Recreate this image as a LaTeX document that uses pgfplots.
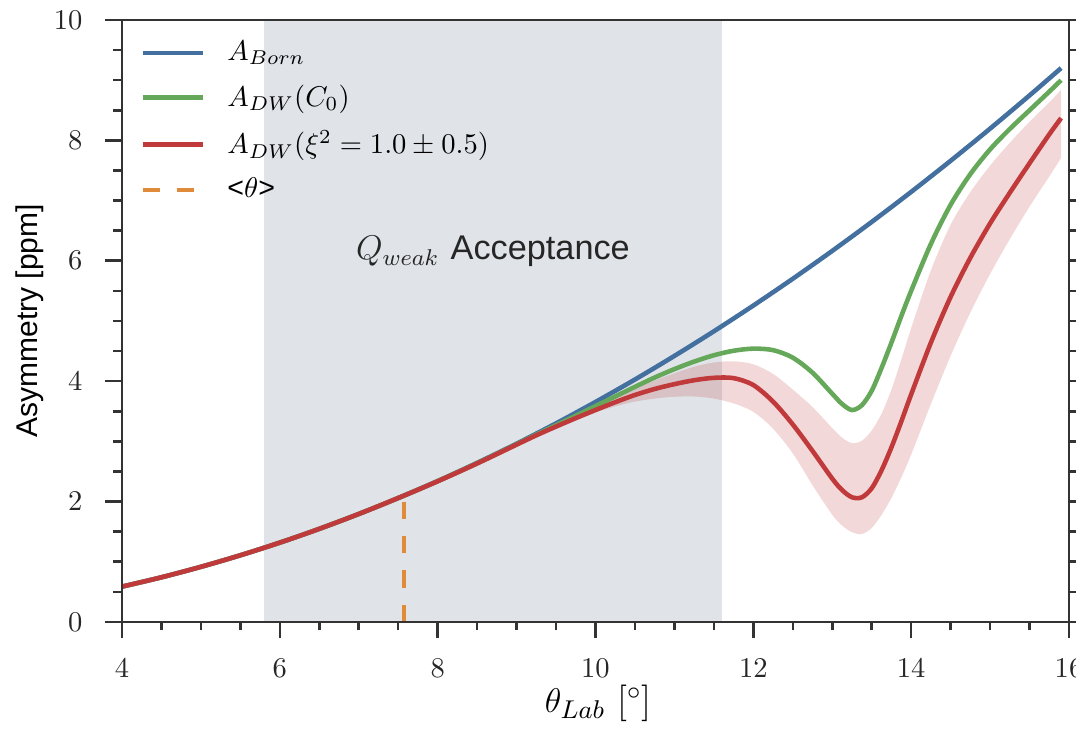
\documentclass[border=0pt]{standalone}
\usepackage{fontspec}
\setsansfont{Liberation Sans}
\usepackage{pgfplots}
\pgfplotsset{compat=1.18}
\usepgfplotslibrary{fillbetween}

\definecolor{cblue}{HTML}{4470A0}
\definecolor{cgreen}{HTML}{66A85A}
\definecolor{cred}{HTML}{C03A3C}
\definecolor{corange}{HTML}{E08B3A}
\definecolor{cshade}{HTML}{E0E4E8}
\definecolor{axc}{HTML}{333333}

\begin{document}
\begin{tikzpicture}
\begin{axis}[
    set layers,
    scale only axis, width=331.5pt, height=210.7pt,
    xmin=4, xmax=16, ymin=0, ymax=10,
    xtick={4,6,...,16}, ytick={0,2,...,10},
    minor x tick num=3, minor y tick num=3,
    tick align=outside, xtick pos=bottom, ytick pos=both,
    major tick length=5.8pt, minor tick length=3pt,
    axis line style={line width=0.9pt, color=axc},
    every tick/.style={line width=0.9pt, color=axc},
    axis on top,
    tick label style={font=\normalsize, color=black!85},
    xticklabel style={yshift=-3.8pt},
    yticklabel style={xshift=-4.5pt},
    xlabel={$\theta_{Lab}$ [$^\circ$]},
    ylabel={\sffamily Asymmetry [ppm]},
    every axis x label/.style={at={(axis description cs:0.503,-0.135)}, anchor=center, font=\fontsize{12.8}{14}\selectfont},
    every axis y label/.style={at={(axis description cs:-0.097,0.5)}, rotate=90, anchor=center, font=\fontsize{10.5}{12}\selectfont},
    legend style={at={(axis description cs:0.0097,0.985)}, anchor=north west, draw=none, fill=none,
        font=\normalsize, row sep=3pt, /tikz/every even column/.append style={column sep=6pt}},
    legend cell align=left,
    legend image code/.code={\draw[#1] (0pt,0pt) -- (21.3pt,0pt); \path (26.9pt,0pt);},
]

% acceptance window
\addplot[draw=none, fill=cshade, forget plot, on layer=axis background] coordinates {(5.8,0) (5.8,10) (11.6,10) (11.6,0)} \closedcycle;

% xi^2 band
\addplot[name path=up, draw=none, smooth, forget plot] coordinates {
(9.0,2.950) (9.25,3.110) (9.5,3.260) (9.75,3.410) (10.0,3.560) (10.25,3.720)
(10.5,3.870) (10.75,4.010) (11.0,4.130) (11.25,4.240) (11.5,4.310) (11.75,4.330)
(12.0,4.280) (12.25,4.120) (12.5,3.860) (12.75,3.570) (13.0,3.220) (13.125,3.060)
(13.25,2.970) (13.375,3.010) (13.5,3.180) (13.625,3.460) (13.75,3.860) (13.875,4.360)
(14.0,4.880) (14.25,5.840) (14.5,6.600) (14.75,7.140) (15.0,7.580) (15.25,7.960)
(15.5,8.310) (15.75,8.630) (15.9,8.840)
};
\addplot[name path=lo, draw=none, smooth, forget plot] coordinates {
(9.0,2.940) (9.25,3.090) (9.5,3.230) (9.75,3.360) (10.0,3.480) (10.25,3.580)
(10.5,3.660) (10.75,3.710) (11.0,3.740) (11.25,3.745) (11.5,3.710) (11.75,3.630)
(12.0,3.490) (12.25,3.210) (12.5,2.800) (12.75,2.270) (13.0,1.780) (13.125,1.600)
(13.25,1.490) (13.375,1.460) (13.5,1.560) (13.625,1.780) (13.75,2.060) (13.875,2.400)
(14.0,2.780) (14.25,3.620) (14.5,4.420) (14.75,5.140) (15.0,5.780) (15.25,6.360)
(15.5,6.900) (15.75,7.400) (15.9,7.710)
};
\addplot[cred, fill opacity=0.2, draw=none, forget plot] fill between[of=up and lo];

% A_Born
\addplot[cblue, line width=1.6pt, smooth] coordinates {
(4,0.586) (4.5,0.741) (5,0.915) (5.5,1.107) (6,1.317) (6.5,1.546) (7,1.793)
(7.5,2.058) (8,2.340) (8.5,2.642) (9,2.961) (9.5,3.298) (10,3.654) (10.5,4.027)
(11,4.419) (11.5,4.828) (12,5.256) (12.5,5.701) (13,6.164) (13.5,6.645) (14,7.144)
(14.5,7.661) (15,8.195) (15.5,8.747) (15.9,9.201)
};
\addlegendentry{$A_{Born}$}

% A_DW(C0)
\addplot[cgreen, line width=1.6pt, smooth] coordinates {
(4,0.586) (4.5,0.741) (5,0.915) (5.5,1.107) (6,1.317) (6.5,1.546) (7,1.793)
(7.5,2.058) (8,2.338) (8.5,2.636) (9.0,2.950) (9.25,3.110) (9.5,3.268) (9.75,3.425)
(10.0,3.585) (10.25,3.745) (10.5,3.905) (10.75,4.060) (11.0,4.200) (11.25,4.325)
(11.5,4.430) (11.75,4.505) (12.0,4.540) (12.25,4.515) (12.5,4.390) (12.75,4.140)
(13.0,3.790) (13.125,3.620) (13.25,3.520) (13.375,3.600) (13.5,3.840) (13.625,4.220)
(13.75,4.640) (13.875,5.080) (14.0,5.500) (14.25,6.280) (14.5,6.930) (14.75,7.440)
(15.0,7.850) (15.25,8.190) (15.5,8.500) (15.75,8.810) (15.9,9.000)
};
\addlegendentry{$A_{DW}(C_0)$}

% A_DW(xi^2)
\addplot[cred, line width=1.6pt, smooth] coordinates {
(4,0.586) (4.5,0.741) (5,0.915) (5.5,1.107) (6,1.317) (6.5,1.546) (7,1.793)
(7.5,2.058) (8,2.336) (8.5,2.632) (9.0,2.945) (9.25,3.100) (9.5,3.245) (9.75,3.385)
(10.0,3.520) (10.25,3.650) (10.5,3.770) (10.75,3.870) (11.0,3.950) (11.25,4.015)
(11.5,4.055) (11.75,4.050) (12.0,3.935) (12.25,3.660) (12.5,3.280) (12.75,2.840)
(13.0,2.380) (13.125,2.190) (13.25,2.070) (13.375,2.070) (13.5,2.220) (13.625,2.520)
(13.75,2.900) (13.875,3.330) (14.0,3.780) (14.25,4.640) (14.5,5.400) (14.75,6.050)
(15.0,6.620) (15.25,7.130) (15.5,7.620) (15.75,8.100) (15.9,8.370)
};
\addlegendentry{$A_{DW}(\xi^2 = 1.0 \pm 0.5)$}

% mean angle
\addplot[corange, line width=1.4pt, dash pattern=on 6pt off 6pt] coordinates {(7.57,0) (7.57,2.05)};
\addlegendentry{{\sffamily <}$\theta${\sffamily >}}

\node[font=\fontsize{12}{14}\selectfont, text=black!85] at (axis cs:8.7,6.15) {$Q_{weak}$ \textsf{Acceptance}};

\coordinate (sw) at (rel axis cs:0,0);
\coordinate (ne) at (rel axis cs:1,1);
\end{axis}
\pgfresetboundingbox
\path[use as bounding box] ([shift={(-42.7pt,-38.15pt)}]sw) rectangle ([shift={(2.45pt,7pt)}]ne);
\end{tikzpicture}
\end{document}
